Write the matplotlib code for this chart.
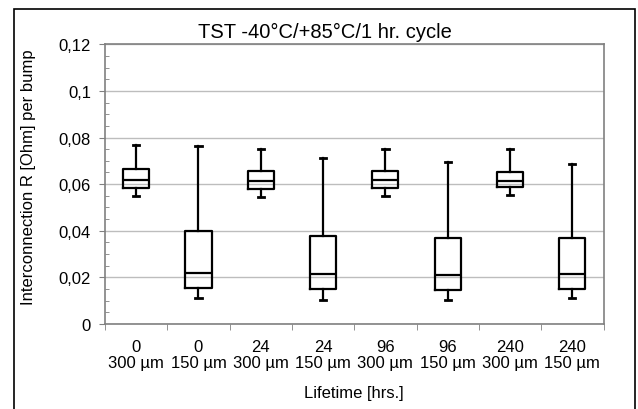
import matplotlib
matplotlib.use('Agg')
import matplotlib.pyplot as plt
from matplotlib.ticker import MultipleLocator, FuncFormatter

plt.rcParams['font.family'] = ['Liberation Sans', 'DejaVu Sans']

# Data
hours = ['0', '0', '24', '24', '96', '96', '240', '240']
bumps = ['300 µm', '150 µm', '300 µm', '150 µm', '300 µm', '150 µm', '300 µm', '150 µm']
whisker_lo = [0.0549, 0.0113, 0.0546, 0.0103, 0.0549, 0.0105, 0.0552, 0.0113]
q1 = [0.0583, 0.0156, 0.0580, 0.0152, 0.0583, 0.0148, 0.0586, 0.0152]
median = [0.0616, 0.0219, 0.0614, 0.0214, 0.0616, 0.0210, 0.0613, 0.0216]
q3 = [0.0664, 0.0398, 0.0657, 0.0377, 0.0655, 0.0367, 0.0653, 0.0367]
whisker_hi = [0.0770, 0.0764, 0.0749, 0.0714, 0.0749, 0.0694, 0.0749, 0.0687]

fig = plt.figure(figsize=(6.38, 4.10), dpi=100)
ax = fig.add_axes([105 / 638, 85 / 410, 498.5 / 638, 279.7 / 410])

# outer frame of the chart object
fig.add_artist(plt.Rectangle((14 / 638, -0.05), 621 / 638, 1.05 - 10 / 410,
                             transform=fig.transFigure, fill=False,
                             edgecolor='black', linewidth=1.2))

stats = []
for i in range(len(hours)):
    stats.append({'whislo': whisker_lo[i], 'q1': q1[i], 'med': median[i],
                  'q3': q3[i], 'whishi': whisker_hi[i], 'fliers': []})

pos = list(range(len(hours)))
line = dict(color='black', linewidth=1.6)
ax.bxp(stats, positions=pos, widths=0.42, capwidths=0.1, showfliers=False,
       boxprops=line, medianprops=line, whiskerprops=line,
       capprops=dict(color='black', linewidth=2.0), zorder=3)

ax.set_xlim(-0.5, len(hours) - 0.5)
ax.set_ylim(0, 0.12)

ax.yaxis.set_major_locator(MultipleLocator(0.02))
ax.yaxis.set_minor_locator(MultipleLocator(0.005))
ax.yaxis.set_major_formatter(FuncFormatter(lambda v, p: ('%g' % round(v, 3)).replace('.', ',')))
ax.grid(axis='y', which='major', color='#bdbdbd', linewidth=1.0, zorder=0)
ax.set_axisbelow(True)

ax.set_xticks(pos)
ax.set_xticklabels([h + '\n' + b for h, b in zip(hours, bumps)], fontsize=12, linespacing=1.05)
ax.set_xticks([p + 0.5 for p in [-1] + pos], minor=True)
ax.tick_params(axis='x', which='major', length=0, pad=11)
ax.tick_params(axis='x', which='minor', length=4, direction='out', color='#808080')
ax.tick_params(axis='y', which='major', length=4, direction='out', color='#808080', labelsize=12, pad=6)
ax.tick_params(axis='y', which='minor', length=3, direction='in', color='#808080')

for s in ax.spines.values():
    s.set_color('#808080')
    s.set_linewidth(1.2)

fig.text(324.5 / 638, 1 - 38.5 / 410, 'TST -40°C/+85°C/1 hr. cycle', fontsize=14.5,
         ha='center', va='baseline')
ax.set_xlabel('Lifetime [hrs.]', fontsize=12)
ax.xaxis.set_label_coords(0.5, (325 - 386) / 279.7)
ax.set_ylabel('Interconnection R [Ohm] per bump', fontsize=12)
ax.yaxis.set_label_coords((36 - 105) / 498.5, 0.53)

fig.savefig('out.png', dpi=100)
